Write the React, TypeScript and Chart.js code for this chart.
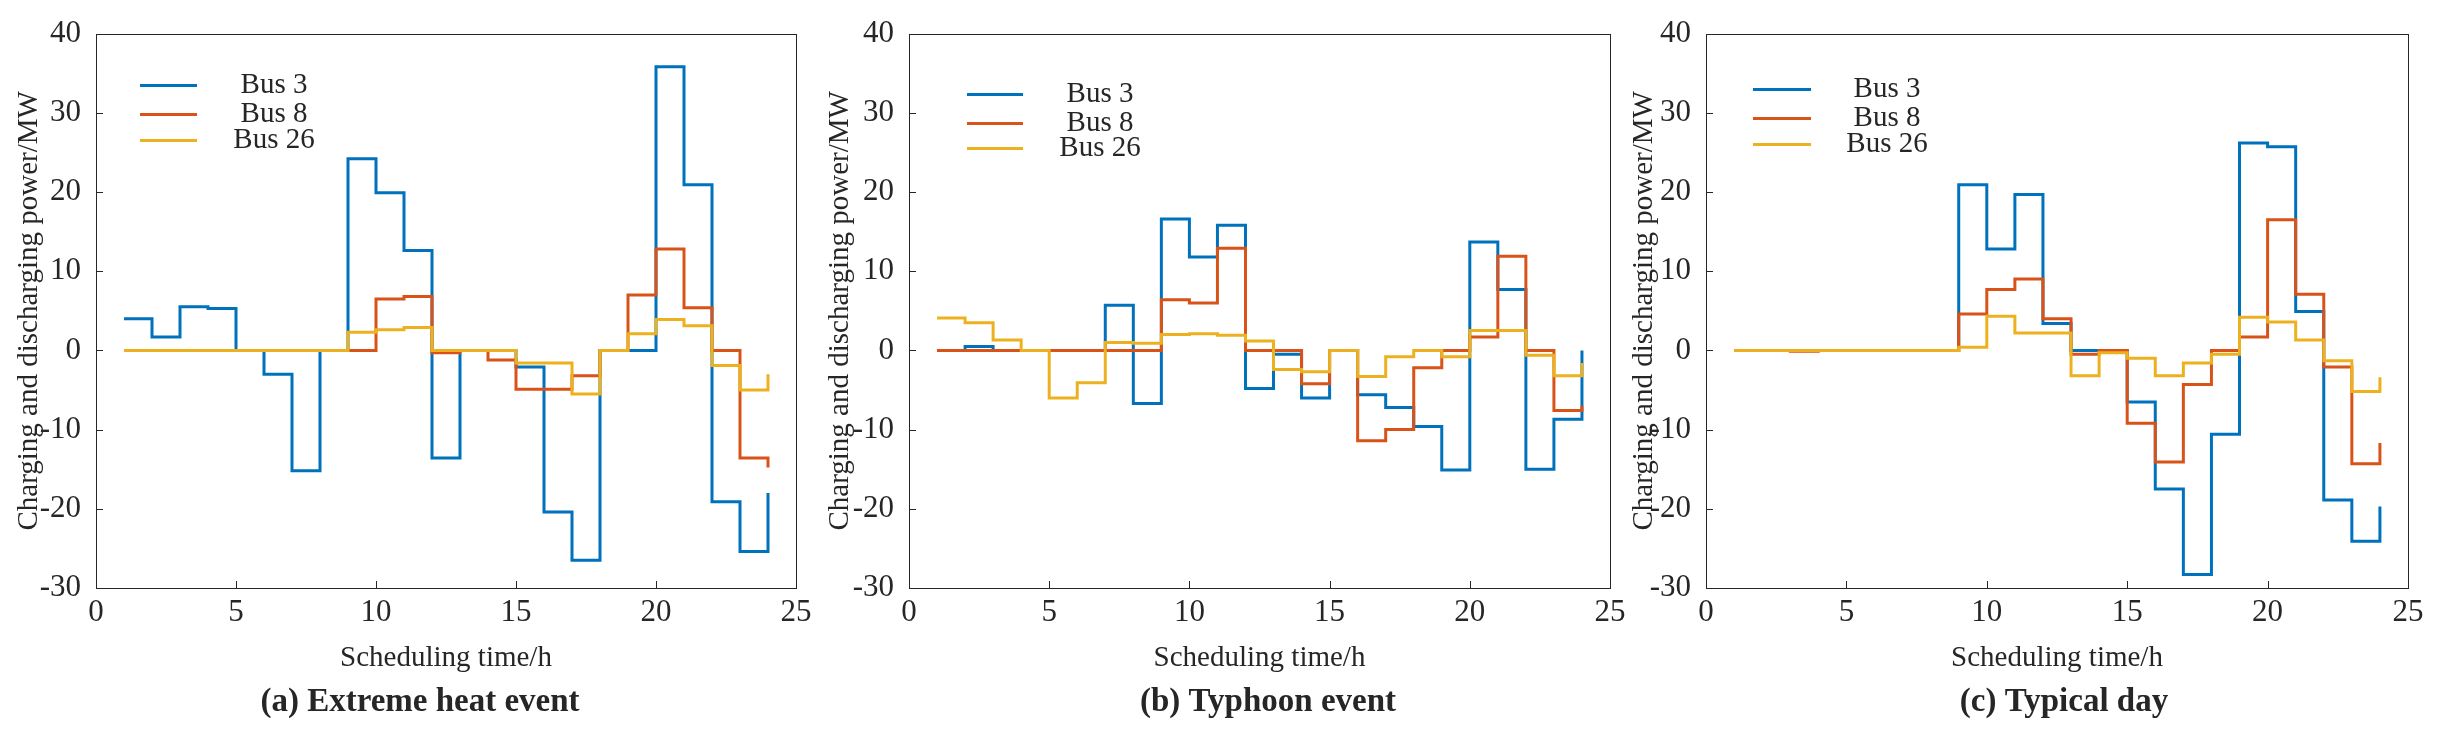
import React, { useEffect, useRef } from 'react'
import { Chart, registerables } from 'chart.js'

Chart.register(...registerables)

// scheduling hours (stairs start points)
const hours = [1, 2, 3, 4, 5, 6, 7, 8, 9, 10, 11, 12, 13, 14, 15, 16, 17, 18, 19, 20, 21, 22, 23, 24]
const busNames = ['Bus 3', 'Bus 8', 'Bus 26']
const busColours = ['#0072BD', '#D95319', '#EDB120']
const xTicks = [0, 5, 10, 15, 20, 25]
const yTicks = [-30, -20, -10, 0, 10, 20, 30, 40]

// (a) Extreme heat event
const heatBus3 = [4, 1.7, 5.5, 5.3, 0, -3, -15.2, 0, 24.2, 19.9, 12.6, -13.6, 0, 0, -2.1, -20.4, -26.5, 0, 0, 35.8, 20.9, -19.1, -25.4, -18]
const heatBus8 = [0, 0, 0, 0, 0, 0, 0, 0, 0, 6.5, 6.8, -0.3, 0, -1.2, -4.9, -4.9, -3.2, 0, 7, 12.8, 5.4, 0, -13.6, -14.8]
const heatBus26 = [0, 0, 0, 0, 0, 0, 0, 0, 2.3, 2.6, 2.9, 0, 0, 0, -1.6, -1.6, -5.5, 0, 2.1, 3.9, 3.1, -1.9, -5, -3]

// (b) Typhoon event
const typhoonBus3 = [0, 0.5, 0, 0, 0, 0, 5.7, -6.7, 16.6, 11.8, 15.8, -4.8, -0.5, -6, 0, -5.6, -7.2, -9.6, -15.1, 13.7, 7.7, -15, -8.7, 0]
const typhoonBus8 = [0, 0, 0, 0, 0, 0, 0, 0, 6.4, 6, 12.9, 0, 0, -4.2, 0, -11.4, -10, -2.2, 0, 1.7, 11.9, 0, -7.6, -7]
const typhoonBus26 = [4.1, 3.5, 1.3, 0, -6, -4.1, 1, 0.9, 2, 2.1, 1.9, 1.2, -2.4, -2.7, 0, -3.3, -0.8, 0, -0.8, 2.5, 2.5, -0.6, -3.2, -1.6]

// (c) Typical day
const typicalBus3 = [0, 0, 0, 0, 0, 0, 0, 0, 20.9, 12.8, 19.7, 3.4, 0, 0, -6.5, -17.5, -28.3, -10.6, 26.2, 25.7, 4.9, -18.9, -24.1, -19.7]
const typicalBus8 = [0, 0, -0.1, 0, 0, 0, 0, 0, 4.6, 7.7, 9, 4, -0.5, 0, -9.2, -14.1, -4.3, 0, 1.7, 16.5, 7.1, -2.1, -14.3, -11.7]
const typicalBus26 = [0, 0, 0, 0, 0, 0, 0, 0, 0.4, 4.3, 2.2, 2.2, -3.2, -0.3, -1, -3.2, -1.6, -0.5, 4.2, 3.6, 1.3, -1.3, -5.2, -3.4]

const TEXT = '#262626'
const SERIF = '"Liberation Serif", "Times New Roman", serif'

type PanelType = {
    caption: string
    series: number[][]
    canvasLeft: number
    areaLeft: number
    areaRight: number
    yTitlePad: number
    legend: { x0: number, x1: number, tx: number, rows: number[] }
    captionX: number
}

const panels: PanelType[] = [
    {
        caption: '(a) Extreme heat event',
        series: [heatBus3, heatBus8, heatBus26],
        canvasLeft: 0, areaLeft: 96, areaRight: 796, yTitlePad: 12,
        legend: { x0: 44, x1: 101, tx: 178, rows: [52, 81, 107] },
        captionX: 324,
    },
    {
        caption: '(b) Typhoon event',
        series: [typhoonBus3, typhoonBus8, typhoonBus26],
        canvasLeft: 813, areaLeft: 909, areaRight: 1610, yTitlePad: 10,
        legend: { x0: 58, x1: 114, tx: 191, rows: [61, 90, 115] },
        captionX: 359,
    },
    {
        caption: '(c) Typical day',
        series: [typicalBus3, typicalBus8, typicalBus26],
        canvasLeft: 1610, areaLeft: 1706, areaRight: 2408, yTitlePad: 17,
        legend: { x0: 47, x1: 105, tx: 181, rows: [56, 85, 111] },
        captionX: 358,
    },
]

const AREA_TOP = 28
const AREA_BOTTOM = 588
const HEIGHT = 733

// box, inward ticks, legend and caption in the MATLAB look
const decorPlugin = {
    id: 'decor',
    afterDraw(chart: any, _args: any, opts: any) {
        const { ctx, chartArea } = chart
        const { left, right, top, bottom } = chartArea
        const xs = chart.scales.x
        const ys = chart.scales.y
        ctx.save()
        ctx.strokeStyle = TEXT
        ctx.lineWidth = 1
        ctx.beginPath()
        xTicks.forEach((v) => {
            const px = Math.round(xs.getPixelForValue(v)) + 0.5
            ctx.moveTo(px, bottom)
            ctx.lineTo(px, bottom - 7)
        })
        yTicks.forEach((v) => {
            const py = Math.round(ys.getPixelForValue(v)) + 0.5
            ctx.moveTo(left, py)
            ctx.lineTo(left + 7, py)
        })
        ctx.stroke()
        ctx.strokeRect(Math.round(left) + 0.5, Math.round(top) + 0.5, Math.round(right - left), Math.round(bottom - top))

        const lg = opts.legend
        chart.data.datasets.forEach((ds: any, i: number) => {
            const y = top + lg.rows[i]
            ctx.strokeStyle = ds.borderColor
            ctx.lineWidth = 3
            ctx.beginPath()
            ctx.moveTo(left + lg.x0, y)
            ctx.lineTo(left + lg.x1, y)
            ctx.stroke()
            ctx.fillStyle = TEXT
            ctx.font = `29px ${SERIF}`
            ctx.textAlign = 'center'
            ctx.textBaseline = 'middle'
            ctx.fillText(ds.label, left + lg.tx, y)
        })

        ctx.fillStyle = TEXT
        ctx.font = `bold 33px ${SERIF}`
        ctx.textAlign = 'center'
        ctx.textBaseline = 'middle'
        ctx.fillText(opts.caption, left + opts.captionX, 702)
        ctx.restore()
    },
}

const Panel = ({ panel }: { panel: PanelType }) => {
    const canvasRef = useRef(null)
    const width = panel.areaRight + 22 - panel.canvasLeft
    const rightPad = width - 96 - (panel.areaRight - panel.areaLeft)

    useEffect(() => {
        if (canvasRef.current == null) return
        const myChart = new Chart(canvasRef.current, {
            type: 'line',
            data: {
                datasets: panel.series.map((values, i) => ({
                    label: busNames[i],
                    data: hours.map((h, j) => ({ x: h, y: values[j] })),
                    borderColor: busColours[i],
                    backgroundColor: busColours[i],
                    borderWidth: 3,
                    pointRadius: 0,
                    stepped: 'before',
                    borderJoinStyle: 'miter',
                    borderCapStyle: 'butt',
                    fill: false,
                    order: 3 - i,
                })),
            },
            options: {
                responsive: true,
                maintainAspectRatio: false,
                animation: false,
                events: [],
                layout: { padding: { left: 0, top: AREA_TOP, right: rightPad, bottom: 0 } },
                plugins: {
                    legend: { display: false },
                    tooltip: { enabled: false },
                    decor: { legend: panel.legend, caption: panel.caption, captionX: panel.captionX },
                },
                scales: {
                    x: {
                        type: 'linear',
                        min: 0,
                        max: 25,
                        afterBuildTicks: (s: any) => { s.ticks = xTicks.map((v) => ({ value: v })) },
                        afterFit: (s: any) => { s.height = HEIGHT - AREA_BOTTOM },
                        grid: { display: false, drawTicks: false },
                        border: { display: false },
                        ticks: { color: TEXT, font: { family: SERIF, size: 31 }, padding: 6, maxRotation: 0, autoSkip: false },
                        title: {
                            display: true,
                            text: 'Scheduling time/h',
                            color: TEXT,
                            font: { family: SERIF, size: 29 },
                            padding: { top: 0, bottom: 57 },
                        },
                    },
                    y: {
                        min: -30,
                        max: 40,
                        afterBuildTicks: (s: any) => { s.ticks = yTicks.map((v) => ({ value: v })) },
                        afterFit: (s: any) => { s.width = 96 },
                        grid: { display: false, drawTicks: false },
                        border: { display: false },
                        ticks: { color: TEXT, font: { family: SERIF, size: 31 }, padding: 15, autoSkip: false },
                        title: {
                            display: true,
                            text: 'Charging and discharging power/MW',
                            color: TEXT,
                            font: { family: SERIF, size: 29 },
                            padding: { top: panel.yTitlePad, bottom: 0 },
                        },
                    },
                },
            },
            plugins: [decorPlugin],
        } as any)

        return () => {
            myChart.destroy()
        }
    }, [canvasRef])

    return (
        <div style={{ position: 'absolute', left: panel.canvasLeft, top: 0, width, height: HEIGHT }}>
            <canvas ref={canvasRef}></canvas>
        </div>
    )
}

const App = () => {
    return (
        <div style={{ position: 'absolute', left: 0, top: 0, width: 2438, height: HEIGHT, background: '#fff', overflow: 'hidden' }}>
            {panels.map((p) => <Panel key={p.caption} panel={p} />)}
        </div>
    )
}

export default App
